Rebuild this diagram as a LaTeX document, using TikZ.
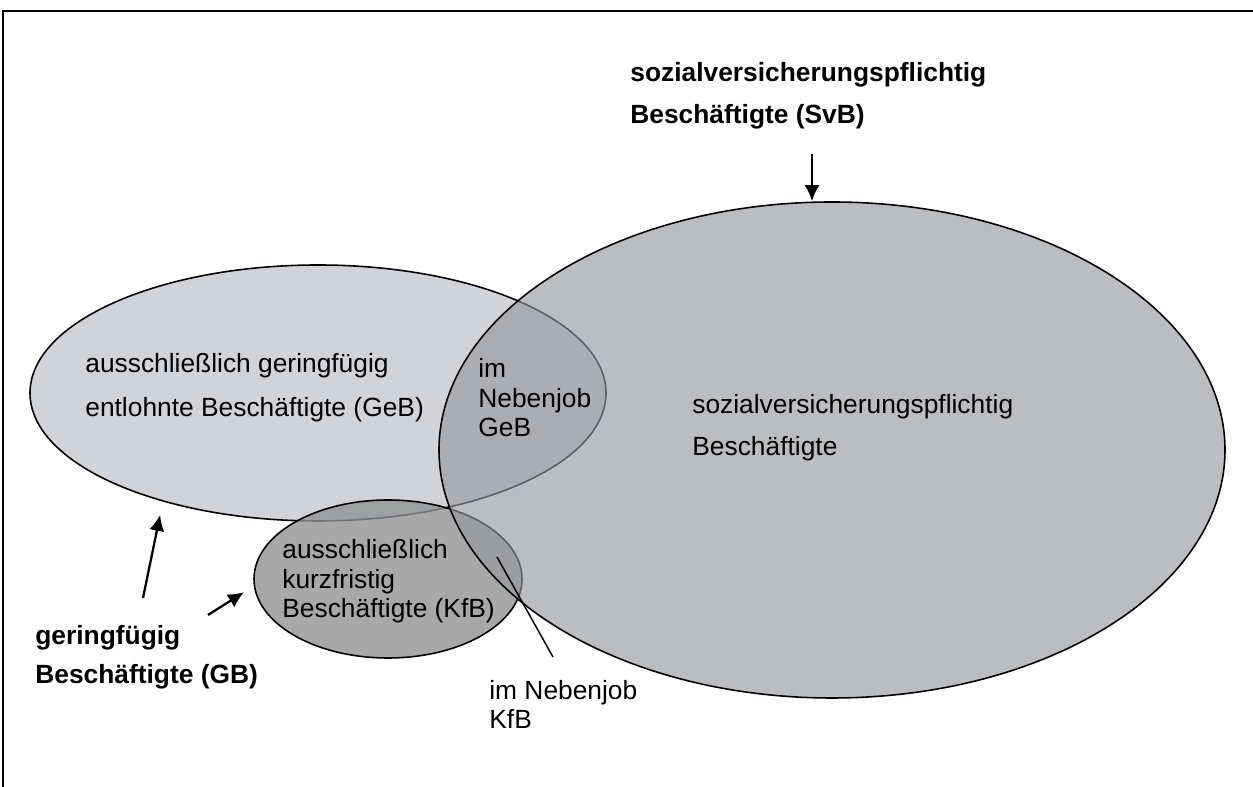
\documentclass[tikz,border=0pt]{standalone}
\usepackage{fontspec}
\setmainfont{Liberation Sans}
\usepackage{tikz}
\usetikzlibrary{arrows.meta,shapes.geometric}
\definecolor{gebgray}{RGB}{210,211,217}
\definecolor{kfbgray}{RGB}{146,146,148}
\definecolor{svbgray}{RGB}{151,152,158}
\tikzstyle{venn} = [draw, ellipse, inner sep=0pt, line width=0.9pt]
\tikzstyle{txt} = [inner sep=0pt, anchor=base west, align=left,
    font=\fontsize{15}{17}\selectfont]
\tikzstyle{boldtxt} = [txt, font=\fontsize{15}{23.9}\selectfont\bfseries]
\tikzstyle{pointer} = [->, line width=1.3pt]

\begin{document}
\begin{tikzpicture}[auto, >={Latex[length=0.32cm,width=0.3cm]}]
    \useasboundingbox (0,0) rectangle (25.06,15.74);
    \draw [line width=1.1pt] (0.06,0) -- (0.06,15.52) -- (25.06,15.52);
    \node [venn, fill=gebgray, minimum width=11.52cm, minimum height=5.12cm] (geb) at (6.36,7.88) {};
    \node [venn, fill=kfbgray, fill opacity=0.8, minimum width=5.36cm, minimum height=3.16cm] (kfb) at (7.76,4.16) {};
    \node [venn, fill=svbgray, fill opacity=0.644, minimum width=15.72cm, minimum height=9.92cm] (svb) at (16.64,6.74) {};
    \node [txt, font=\fontsize{15}{25.6}\selectfont] (gebtext) at (1.7,7.40) {ausschließlich geringfügig\\entlohnte Beschäftigte (GeB)};
    \node [txt] (nebgeb) at (9.56,7.00) {im\\Nebenjob\\GeB};
    \node [txt, font=\fontsize{15}{23.9}\selectfont] (svbtext) at (13.84,6.62) {sozialversicherungspflichtig\\Beschäftigte};
    \node [txt] (kfbtext) at (5.64,3.38) {ausschließlich\\kurzfristig\\Beschäftigte (KfB)};
    \node [txt] (nebkfb) at (9.78,1.16) {im Nebenjob\\KfB};
    \node [boldtxt] (svblabel) at (12.6,13.26) {sozialversicherungspflichtig\\Beschäftigte (SvB)};
    \node [boldtxt, font=\fontsize{15}{22.2}\selectfont\bfseries] (gblabel) at (0.7,2.06) {geringfügig\\Beschäftigte (GB)};
    \coordinate (svbtail) at (16.24,12.66);
    \coordinate (gbtail1) at (2.86,3.78);
    \coordinate (gbtail2) at (4.16,3.44);
    \coordinate (nkfbtop) at (9.94,4.60);
    \coordinate (nkfbfoot) at (11.06,2.60);
    \draw [pointer] (svbtail) -- (svbtail |- svb.north);
    \draw [pointer, shorten >=0.27cm] (gbtail1) -- (geb.215.6);
    \draw [pointer, shorten >=0.23cm] (gbtail2) -- (kfb.183);
    \draw [line width=0.85pt] (nkfbtop) -- (nkfbfoot);
\end{tikzpicture}
\end{document}
